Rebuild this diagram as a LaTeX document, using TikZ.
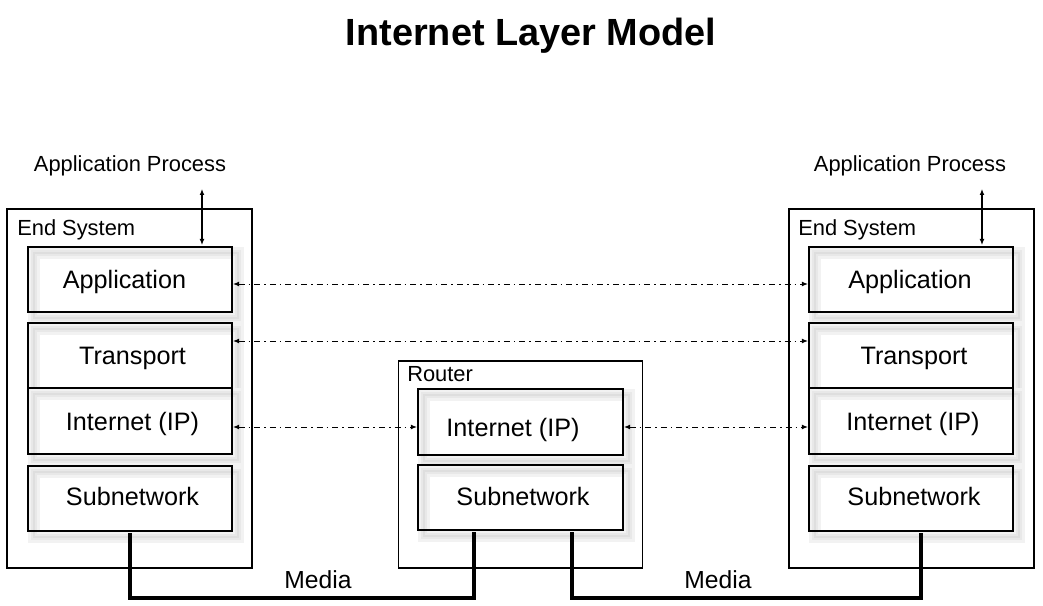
\documentclass[tikz,border=0pt]{standalone}
\usepackage{fontspec}
\setmainfont{Liberation Sans}
\usetikzlibrary{arrows.meta,backgrounds}
\begin{document}
\begin{tikzpicture}[x=0.75pt,y=-0.75pt,
  outerbox/.style={draw, line width=0.9pt, inner sep=0pt, outer sep=0pt},
  layerbox/.style={draw, line width=1.2pt, inner sep=0pt, outer sep=0pt, minimum width=153pt},
  lbl/.style={inner sep=0pt, font=\fontsize{18.9}{22}\selectfont, text height=0.72em, text depth=0.2em},
  sublbl/.style={inner sep=0pt, font=\fontsize{16.4}{19}\selectfont, anchor=west, text height=0.72em, text depth=0.2em},
  medialbl/.style={inner sep=0pt, font=\fontsize{18.5}{22}\selectfont, text height=0.72em, text depth=0.2em},
  peer/.style={line width=0.7pt, dash pattern=on 4.5pt off 3pt on 1.2pt off 3pt, {Latex[length=4.5pt,width=3.6pt]}-{Latex[length=4.5pt,width=3.6pt]}},
  apparrow/.style={line width=0.8pt, {Latex[length=4.5pt,width=3.6pt]}-{Latex[length=4.5pt,width=3.6pt]}},
  media/.style={line width=2.5pt, line cap=rect}
]
\useasboundingbox (0,0) rectangle (1043,606);

% title
\node[inner sep=0pt, font=\fontsize{28.4}{32}\selectfont\bfseries] (title) at (531,36) {Internet Layer Model};

% outer boxes
\node[outerbox, minimum width=183.75pt, minimum height=269.25pt] (lES) at (129.5,388.5) {};
\node[outerbox, minimum width=183pt, minimum height=155.25pt] (rtR) at (520.5,464.5) {};
\node[outerbox, minimum width=183.75pt, minimum height=269.25pt] (rES) at (911.5,388.5) {};

\node[sublbl] (lESt) at (17,232) {End System};
\node[sublbl] (rESt) at (798,232) {End System};
\node[sublbl] (rtRt) at (407,378) {Router};

% layer boxes left
\node[layerbox, minimum height=48.75pt] (laA) at (130,279.5) {};
\node[layerbox, minimum height=48.75pt] (laT) at (130,355.5) {};
\node[layerbox, minimum height=49.5pt] (laI) at (130,421) {};
\node[layerbox, minimum height=48.75pt] (laS) at (130,498.5) {};
% router
\node[layerbox, minimum width=153.75pt, minimum height=49.5pt] (rtI) at (520.5,422) {};
\node[layerbox, minimum width=153.75pt, minimum height=48.75pt] (rtS) at (520.5,497.5) {};
% right
\node[layerbox, minimum height=48.75pt] (raA) at (911,279.5) {};
\node[layerbox, minimum height=48.75pt] (raT) at (911,355.5) {};
\node[layerbox, minimum height=49.5pt] (raI) at (911,421) {};
\node[layerbox, minimum height=48.75pt] (raS) at (911,498.5) {};

% shadows
\begin{scope}[on background layer]
\foreach \n in {laA,laT,laI,laS,rtI,rtS,raA,raT,raI,raS}{
  \draw[gray!10, line width=9pt] ([shift={(4.5pt,-4.5pt)}]\n.south west) rectangle ([shift={(4.5pt,-4.5pt)}]\n.north east);
  \draw[gray!18, line width=5pt] ([shift={(4.5pt,-4.5pt)}]\n.south west) rectangle ([shift={(4.5pt,-4.5pt)}]\n.north east);
  \draw[gray!26, line width=2pt] ([shift={(4.5pt,-4.5pt)}]\n.south west) rectangle ([shift={(4.5pt,-4.5pt)}]\n.north east);
}
\end{scope}

% labels
\node[lbl] (laAt) at (124.5,285) {Application};
\node[lbl] (laTt) at (132.5,361) {Transport};
\node[lbl] (laIt) at (132.5,427) {Internet (IP)};
\node[lbl] (laSt) at (132.5,502) {Subnetwork};
\node[lbl] (rtIt) at (513,433) {Internet (IP)};
\node[lbl] (rtSt) at (523,502) {Subnetwork};
\node[lbl] (raAt) at (910,285) {Application};
\node[lbl] (raTt) at (914,361) {Transport};
\node[lbl] (raIt) at (913,427) {Internet (IP)};
\node[lbl] (raSt) at (914,502) {Subnetwork};

% application process
\node[sublbl, anchor=center] (lAP) at (130,168) {Application Process};
\node[sublbl, anchor=center] (rAP) at (910,168) {Application Process};
\coordinate (lAPa) at (202,189);
\coordinate (rAPa) at (982,189);
\draw[apparrow] (lAPa) -- ([yshift=1.5pt]laA.north -| lAPa);
\draw[apparrow] (rAPa) -- ([yshift=1.5pt]raA.north -| rAPa);

% peer arrows
\draw[peer] ([xshift=0.8pt]laA.east |- 0,284) -- ([xshift=-0.8pt]raA.west |- 0,284);
\draw[peer] ([xshift=0.8pt]laT.east |- 0,341) -- ([xshift=-0.8pt]raT.west |- 0,341);
\draw[peer] ([xshift=0.8pt]laI.east |- 0,427) -- ([xshift=-0.8pt]rtI.west |- 0,427);
\draw[peer] ([xshift=0.8pt]rtI.east |- 0,427) -- ([xshift=-0.8pt]raI.west |- 0,427);

% media
\draw[media] ([yshift=-3pt]laS.south -| 130,0) -- (130,598) -| ([yshift=-3pt]rtS.south -| 474,0);
\draw[media] ([yshift=-3pt]rtS.south -| 572,0) -- (572,598) -| ([yshift=-3pt]raS.south -| 921,0);
\node[medialbl] (m1) at (318,585) {Media};
\node[medialbl] (m2) at (718,585) {Media};
\end{tikzpicture}
\end{document}
